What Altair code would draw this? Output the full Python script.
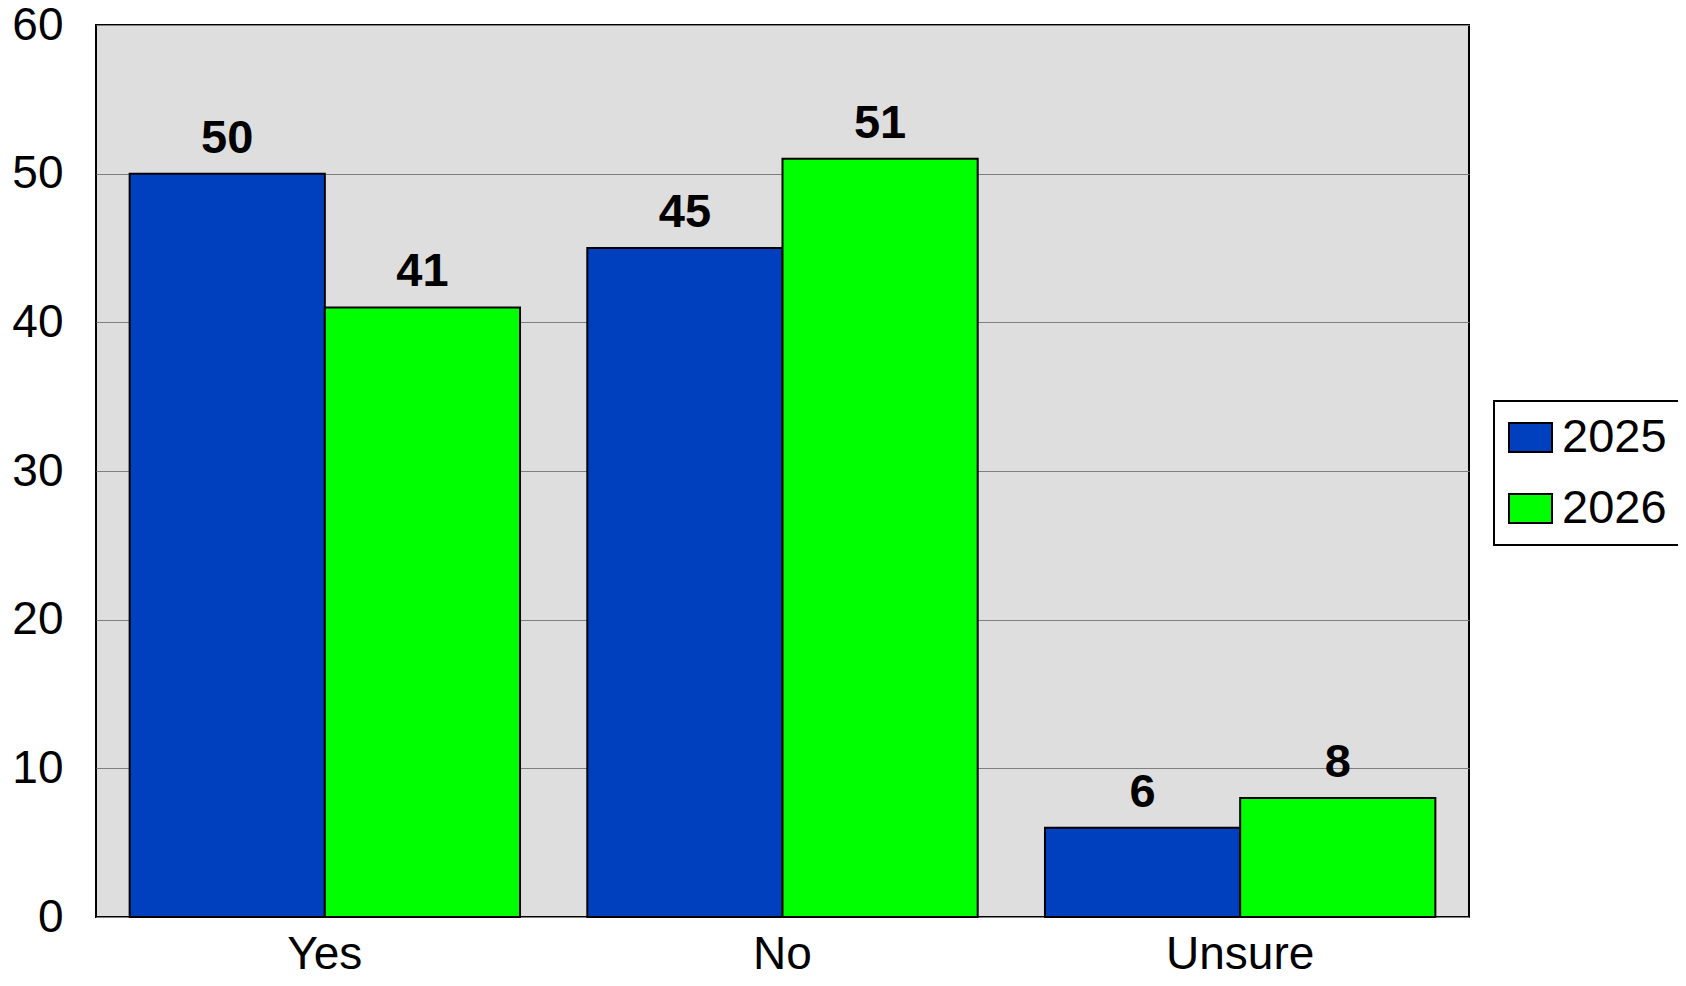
import altair as alt
import pandas as pd

categories = ["Yes", "No", "Unsure"]
years = ["2025", "2026"]
values_2025 = [50, 45, 6]
values_2026 = [41, 51, 8]
colors = ["#0040BF", "#00FF00"]
y_ticks = [0, 10, 20, 30, 40, 50, 60]

rows = []
for c, a, b in zip(categories, values_2025, values_2026):
    rows.append({"category": c, "year": "2025", "value": a})
    rows.append({"category": c, "year": "2026", "value": b})
df = pd.DataFrame(rows)

FONT = "Liberation Sans"

x = alt.X(
    "category:N", sort=categories, title=None,
    scale=alt.Scale(paddingInner=0.147, paddingOuter=0.0735),
    axis=alt.Axis(labelAngle=0, labelFontSize=46, labelFont=FONT, labelColor="black",
                  labelBaseline="alphabetic", labelPadding=51, ticks=False, tickSize=0,
                  domain=False, grid=False),
)
xo = alt.XOffset("year:N", sort=years, scale=alt.Scale(paddingInner=0, paddingOuter=0))
y = alt.Y(
    "value:Q", title=None,
    scale=alt.Scale(domain=[0, 60], nice=False),
    axis=alt.Axis(values=y_ticks, labelFontSize=46, labelFont=FONT, labelColor="black",
                  labelBaseline="middle", labelPadding=33, ticks=False, tickSize=0,
                  domain=False, grid=True, gridColor="#7f7f7f", gridWidth=1),
)
color = alt.Color(
    "year:N", sort=years,
    scale=alt.Scale(domain=years, range=colors),
    legend=alt.Legend(
        title=None, orient="none", legendX=1398, legendY=376,
        labelFontSize=47, labelFont=FONT, labelColor="black",
        symbolType="M-1,-0.67H1V0.67H-1Z", symbolSize=1849,
        symbolStrokeColor="black", symbolStrokeWidth=2, symbolOpacity=1,
        strokeColor="black", fillColor="white", padding=13, rowPadding=23,
        labelOffset=8,
    ),
)

bars = alt.Chart(df).mark_bar(stroke="black", strokeWidth=2, opacity=1).encode(
    x=x, xOffset=xo, y=y, color=color
)
labels = alt.Chart(df).mark_text(
    font=FONT, fontWeight="bold", fontSize=47, baseline="alphabetic", dy=-21, color="black"
).encode(x=x, xOffset=xo, y=y, text="value:Q")

chart = alt.layer(bars, labels).properties(
    width=1373, height=892,
    autosize=alt.AutoSizeParams(type="none"),
    padding={"left": 88, "top": 17, "right": 209, "bottom": 61},
).configure_view(fill="#DEDEDE", stroke="black", strokeWidth=2).configure_legend(strokeWidth=2)

chart.save("out.html", embed_options={"renderer": "svg", "actions": False})
